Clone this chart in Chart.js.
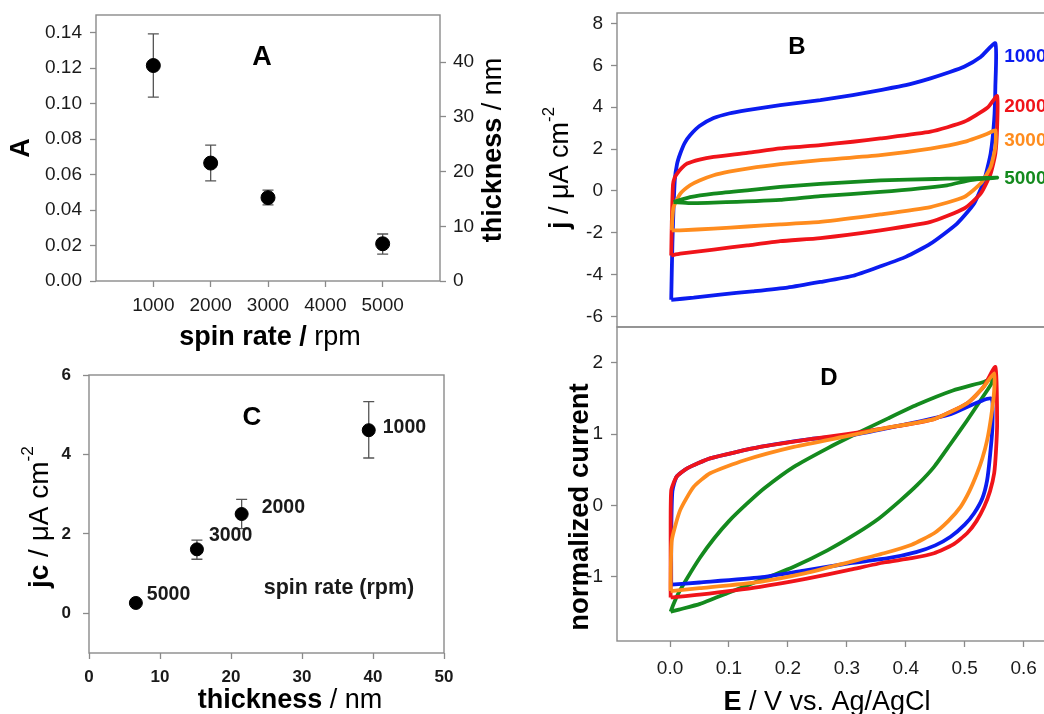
<!DOCTYPE html>
<html>
<head>
<meta charset="utf-8">
<script src="https://cdn.jsdelivr.net/npm/chart.js@4.4.1/dist/chart.umd.min.js"></script>
<style>
html, body { margin: 0; padding: 0; width: 1044px; height: 714px; overflow: hidden; background: #fff; }
canvas { position: absolute; }
</style>
</head>
<body>
<canvas id="chartA" style="left:0;top:0" width="520" height="356"></canvas>
<canvas id="chartC" style="left:0;top:356px" width="520" height="358"></canvas>
<canvas id="chartB" style="left:520px;top:0" width="539" height="330"></canvas>
<canvas id="chartD" style="left:520px;top:320px" width="539" height="394"></canvas>
<script>
// ---- panel A: absorbance vs spin rate
const spinRates = [1000, 2000, 3000, 5000];
const absA = [0.1215, 0.0665, 0.047, 0.021];
const absLow = [0.1037, 0.0565, 0.0429, 0.0151];
const absHigh = [0.1393, 0.0766, 0.0512, 0.0265];
const spinTicks = [1000, 2000, 3000, 4000, 5000];
const absTicks = [0, 0.02, 0.04, 0.06, 0.08, 0.10, 0.12, 0.14];
const nmTicks = [0, 10, 20, 30, 40];

// ---- panel C: jc vs thickness
const thickness = [39.4, 21.5, 15.2, 6.6];
const jc = [4.61, 2.50, 1.61, 0.26];
const jcLow = [3.91, 2.13, 1.36, 0.26];
const jcHigh = [5.33, 2.87, 1.84, 0.26];
const rateLabels = ["1000", "2000", "3000", "5000"];
const thickTicks = [0, 10, 20, 30, 40, 50];
const jcTicks = [0, 2, 4, 6];

// ---- panel B: CVs, [E, j]
const cvB1000 = [[0.002,-5.2],[0.004,-2.5],[0.008,0.5],[0.012,1.3],[0.0175,1.8],[0.025,2.3],[0.034,2.66],[0.05,3.1],[0.074,3.48],[0.1,3.7],[0.131,3.86],[0.187,4.1],[0.255,4.34],[0.31,4.58],[0.357,4.82],[0.4,5.05],[0.442,5.38],[0.475,5.68],[0.499,5.93],[0.527,6.4],[0.552,7.05],[0.552,4.98],[0.55,3.38],[0.544,1.79],[0.533,0.51],[0.516,-0.6],[0.487,-1.56],[0.442,-2.52],[0.4,-3.15],[0.357,-3.6],[0.311,-4.05],[0.255,-4.35],[0.199,-4.62],[0.14,-4.8],[0.085,-4.95],[0.04,-5.1],[0.002,-5.2]];
const cvB2000 = [[0.002,-3.08],[0.003,-1.5],[0.005,0.3],[0.008,0.65],[0.012,0.83],[0.02,1.1],[0.029,1.31],[0.05,1.5],[0.074,1.63],[0.131,1.82],[0.187,2.03],[0.255,2.19],[0.31,2.35],[0.357,2.51],[0.442,2.83],[0.499,3.3],[0.539,3.98],[0.555,4.53],[0.555,3.06],[0.552,1.79],[0.544,0.83],[0.527,-0.13],[0.499,-0.84],[0.442,-1.48],[0.357,-1.88],[0.255,-2.25],[0.187,-2.4],[0.131,-2.6],[0.074,-2.8],[0.017,-3.0],[0.002,-3.08]];
const cvB3000 = [[0.003,-1.88],[0.004,-1.3],[0.006,-0.77],[0.0175,-0.13],[0.034,0.27],[0.05,0.5],[0.074,0.75],[0.1,0.92],[0.131,1.07],[0.187,1.28],[0.255,1.47],[0.357,1.71],[0.442,2.02],[0.499,2.34],[0.539,2.74],[0.552,2.9],[0.552,2.1],[0.544,1.15],[0.527,0.35],[0.499,-0.29],[0.442,-0.77],[0.357,-1.12],[0.255,-1.48],[0.187,-1.6],[0.131,-1.7],[0.074,-1.8],[0.017,-1.88],[0.003,-1.88]];
const cvB5000 = [[0.006,-0.53],[0.034,-0.3],[0.074,-0.13],[0.131,0.03],[0.187,0.19],[0.255,0.34],[0.357,0.5],[0.45,0.57],[0.555,0.64],[0.51,0.52],[0.47,0.27],[0.357,-0.05],[0.255,-0.25],[0.187,-0.43],[0.074,-0.56],[0.034,-0.58],[0.006,-0.53]];

// ---- panel D: normalized CVs, [E, normalized current]
const cvD1000 = [[0.002,-1.11],[0.002,-0.4],[0.004,0.2],[0.011,0.4],[0.029,0.52],[0.068,0.66],[0.153,0.82],[0.238,0.93],[0.306,0.98],[0.391,1.12],[0.476,1.28],[0.544,1.5],[0.547,1.1],[0.543,0.7],[0.538,0.35],[0.53,0.1],[0.516,-0.11],[0.5,-0.27],[0.476,-0.44],[0.45,-0.56],[0.419,-0.65],[0.37,-0.74],[0.306,-0.81],[0.23,-0.91],[0.153,-1.01],[0.05,-1.08],[0.002,-1.11]];
const cvD2000 = [[0.001,-1.29],[0.001,-0.5],[0.002,0.21],[0.011,0.4],[0.029,0.52],[0.068,0.66],[0.153,0.82],[0.238,0.93],[0.3,1.0],[0.363,1.08],[0.448,1.21],[0.504,1.43],[0.532,1.66],[0.552,1.94],[0.555,1.15],[0.553,0.75],[0.55,0.45],[0.543,0.2],[0.533,-0.02],[0.52,-0.22],[0.504,-0.39],[0.48,-0.55],[0.448,-0.67],[0.41,-0.74],[0.363,-0.8],[0.306,-0.9],[0.23,-1.03],[0.153,-1.14],[0.05,-1.25],[0.001,-1.29]];
const cvD3000 = [[0.001,-1.2],[0.001,-1.09],[0.003,-0.49],[0.017,-0.07],[0.04,0.26],[0.068,0.45],[0.125,0.63],[0.21,0.82],[0.306,0.98],[0.363,1.08],[0.448,1.21],[0.504,1.43],[0.532,1.66],[0.55,1.85],[0.55,1.61],[0.545,1.25],[0.538,0.91],[0.53,0.66],[0.521,0.45],[0.508,0.2],[0.493,-0.02],[0.472,-0.22],[0.448,-0.39],[0.41,-0.55],[0.363,-0.67],[0.306,-0.79],[0.23,-0.95],[0.153,-1.07],[0.05,-1.16],[0.001,-1.2]];
const cvD5000 = [[0.001,-1.49],[0.006,-1.38],[0.015,-1.22],[0.029,-1.02],[0.051,-0.73],[0.075,-0.46],[0.1,-0.22],[0.13,0.02],[0.16,0.24],[0.21,0.54],[0.267,0.8],[0.315,1.0],[0.37,1.22],[0.419,1.41],[0.48,1.61],[0.532,1.73],[0.548,1.78],[0.545,1.7],[0.525,1.45],[0.504,1.19],[0.475,0.85],[0.448,0.54],[0.42,0.29],[0.391,0.07],[0.355,-0.18],[0.315,-0.4],[0.267,-0.63],[0.21,-0.86],[0.153,-1.05],[0.097,-1.23],[0.051,-1.38],[0.015,-1.46],[0.001,-1.49]];
const eTicks = [0, 0.1, 0.2, 0.3, 0.4, 0.5, 0.6];
const jTicks = [-6, -4, -2, 0, 2, 4, 6, 8];
const normTicks = [-1, 0, 1, 2];

const FONT = '"Liberation Sans", Arial, sans-serif';
const AXIS = "#8a8a8a";
const TXT = "#1a1a1a";
const BLUE = "#0b1cf0", RED = "#f0141a", ORANGE = "#ff8c1e", GREEN = "#148a1e";

// box round the plot area
const framePlugin = {
    id: "frame",
    afterDraw(chart) {
        const { ctx, chartArea: a } = chart;
        ctx.save();
        ctx.strokeStyle = AXIS;
        ctx.lineWidth = 1.4;
        ctx.strokeRect(a.left, a.top, a.right - a.left, a.bottom - a.top);
        ctx.restore();
    }
};

function errorBars(lows, highs, yId) {
    return {
        id: "errorBars",
        beforeDatasetsDraw(chart) {
            const ctx = chart.ctx, ys = chart.scales[yId];
            ctx.save();
            ctx.strokeStyle = "#555";
            ctx.lineWidth = 1.3;
            chart.getDatasetMeta(0).data.forEach((pt, i) => {
                const y1 = ys.getPixelForValue(lows[i]), y2 = ys.getPixelForValue(highs[i]);
                ctx.beginPath();
                ctx.moveTo(pt.x, y1); ctx.lineTo(pt.x, y2);
                ctx.moveTo(pt.x - 5.5, y1); ctx.lineTo(pt.x + 5.5, y1);
                ctx.moveTo(pt.x - 5.5, y2); ctx.lineTo(pt.x + 5.5, y2);
                ctx.stroke();
            });
            ctx.restore();
        }
    };
}

// text made of bold / regular / superscript runs
function drawRich(ctx, item) {
    ctx.save();
    ctx.translate(item.x, item.y);
    if (item.rot) ctx.rotate(item.rot);
    ctx.fillStyle = item.color || "#000";
    ctx.textBaseline = "middle";
    ctx.textAlign = "left";
    const fonts = item.parts.map(p => (p.bold ? "bold " : "") + (p.sup ? item.size * 0.62 : item.size) + "px " + FONT);
    let w = 0;
    const widths = item.parts.map((p, i) => { ctx.font = fonts[i]; const m = ctx.measureText(p.t).width; w += m; return m; });
    let x = item.align === "left" ? 0 : -w / 2;
    item.parts.forEach((p, i) => {
        ctx.font = fonts[i];
        ctx.fillText(p.t, x, p.sup ? -item.size * 0.42 : 0);
        x += widths[i];
    });
    ctx.restore();
}

function textPlugin(itemsFn) {
    return {
        id: "richText",
        afterDraw(chart) { itemsFn(chart).forEach(it => drawRich(chart.ctx, it)); }
    };
}

function fixedTicks(values) { return s => { s.ticks = values.map(v => ({ value: v })); }; }
// fixed axis box size, no extra room for overflowing end labels
function fitW(w) { return s => { s.width = w; s.paddingTop = s.paddingBottom = s.paddingLeft = s.paddingRight = 0; }; }
function fitH(h) { return s => { s.height = h; s.paddingTop = s.paddingBottom = s.paddingLeft = s.paddingRight = 0; }; }

function axis(extra, bold, size) {
    return Object.assign({
        type: "linear",
        border: { display: false },
        grid: { drawOnChartArea: false, color: AXIS, tickLength: 6, tickWidth: 1.3 },
        ticks: { color: TXT, font: { family: FONT, size: size || 19, weight: bold ? "bold" : "normal" }, maxRotation: 0, autoSkip: false }
    }, extra);
}

const baseOptions = () => ({
    responsive: false,
    animation: false,
    events: [],
    plugins: { legend: { display: false }, tooltip: { enabled: false } }
});

// ---------- A
const optsA = baseOptions();
optsA.layout = { padding: { top: 15, left: 0, right: 0, bottom: 0 } };
optsA.scales = {
    x: axis({ min: 0, max: 6000, afterBuildTicks: fixedTicks(spinTicks), afterFit: fitH(75) }),
    y: axis({ position: "left", min: 0, max: 0.15, afterBuildTicks: fixedTicks(absTicks), afterFit: fitW(96) }),
    y2: axis({ position: "right", min: 0, max: 48.6, afterBuildTicks: fixedTicks(nmTicks), afterFit: fitW(80) })
};
optsA.scales.x.ticks.padding = 7;
optsA.scales.x.ticks.callback = v => String(v);
optsA.scales.y.ticks.padding = 8;
optsA.scales.y.ticks.callback = v => v.toFixed(2);
optsA.scales.y2.ticks.padding = 7;

new Chart(document.getElementById("chartA"), {
    type: "scatter",
    data: { datasets: [{ data: spinRates.map((r, i) => ({ x: r, y: absA[i] })), backgroundColor: "#000", borderColor: "#000", pointRadius: 7 }] },
    options: optsA,
    plugins: [framePlugin, errorBars(absLow, absHigh, "y"), textPlugin(() => [
        { x: 262, y: 58, size: 27, parts: [{ t: "A", bold: true }] },
        { x: 22, y: 148, rot: -Math.PI / 2, size: 27, parts: [{ t: "A", bold: true }] },
        { x: 494, y: 150, rot: -Math.PI / 2, size: 27, parts: [{ t: "thickness", bold: true }, { t: " / nm" }] },
        { x: 270, y: 338, size: 27, parts: [{ t: "spin rate /", bold: true }, { t: " rpm" }] }
    ])]
});

// ---------- C
const optsC = baseOptions();
optsC.layout = { padding: { top: 19, left: 0, right: 76, bottom: 0 } };
optsC.scales = {
    x: axis({ min: 0, max: 50, afterBuildTicks: fixedTicks(thickTicks), afterFit: fitH(61) }, true, 17),
    y: axis({ min: -1, max: 6, afterBuildTicks: fixedTicks(jcTicks), afterFit: fitW(89) }, true, 17)
};
optsC.scales.x.ticks.padding = 8;
optsC.scales.y.ticks.padding = 12;
const labelOffsetsC = [[14, -3], [20, -6], [12, -14], [11, -8]];

new Chart(document.getElementById("chartC"), {
    type: "scatter",
    data: { datasets: [{ data: thickness.map((t, i) => ({ x: t, y: jc[i] })), backgroundColor: "#000", borderColor: "#000", pointRadius: 6.5 }] },
    options: optsC,
    plugins: [framePlugin, errorBars(jcLow, jcHigh, "y"), textPlugin(chart => {
        const xs = chart.scales.x, ys = chart.scales.y;
        const items = rateLabels.map((lab, i) => ({
            x: xs.getPixelForValue(thickness[i]) + labelOffsetsC[i][0],
            y: ys.getPixelForValue(jc[i]) + labelOffsetsC[i][1],
            align: "left", size: 19.5, color: TXT, parts: [{ t: lab, bold: true }]
        }));
        return items.concat([
            { x: 252, y: 62, size: 26, parts: [{ t: "C", bold: true }] },
            { x: 339, y: 232, size: 21.5, color: TXT, parts: [{ t: "spin rate (rpm)", bold: true }] },
            { x: 40, y: 161, rot: -Math.PI / 2, size: 28, parts: [{ t: "jc", bold: true }, { t: " / μA cm" }, { t: "-2", sup: true }] },
            { x: 290, y: 345, size: 27, parts: [{ t: "thickness", bold: true }, { t: " / nm" }] }
        ]);
    })]
});

// ---------- B
const cvLine = (data, color) => ({ data, borderColor: color, borderWidth: 3.8, pointRadius: 0, showLine: true, fill: false, tension: 0.18 });
const optsB = baseOptions();
optsB.layout = { padding: { top: 13, left: 0, right: 0, bottom: 3 } };
optsB.scales = {
    x: { type: "linear", display: false, min: -0.09, max: 0.66 },
    y: axis({ min: -6.5, max: 8.5, afterBuildTicks: fixedTicks(jTicks), afterFit: fitW(97) })
};
optsB.scales.y.ticks.padding = 8;
const curveLabelsB = [["1000", BLUE, 6.4], ["2000", RED, 4.0], ["3000", ORANGE, 2.42], ["5000", GREEN, 0.6]];

new Chart(document.getElementById("chartB"), {
    type: "scatter",
    data: { datasets: [cvLine(cvB5000, GREEN), cvLine(cvB3000, ORANGE), cvLine(cvB2000, RED), cvLine(cvB1000, BLUE)] },
    options: optsB,
    plugins: [framePlugin, textPlugin(chart => {
        const xs = chart.scales.x, ys = chart.scales.y;
        return curveLabelsB.map(([t, c, v]) => ({ x: xs.getPixelForValue(0.567), y: ys.getPixelForValue(v), align: "left", size: 19, color: c, parts: [{ t, bold: true }] }))
            .concat([
                { x: 277, y: 47, size: 24, parts: [{ t: "B", bold: true }] },
                { x: 41, y: 168, rot: -Math.PI / 2, size: 27, parts: [{ t: "j", bold: true }, { t: " / μA cm" }, { t: "-2", sup: true }] }
            ]);
    })]
});

// ---------- D
const optsD = baseOptions();
optsD.layout = { padding: { top: 7, left: 0, right: 0, bottom: 0 } };
optsD.scales = {
    x: axis({ min: -0.09, max: 0.66, afterBuildTicks: fixedTicks(eTicks), afterFit: fitH(73) }),
    y: axis({ min: -1.9, max: 2.5, afterBuildTicks: fixedTicks(normTicks), afterFit: fitW(97) })
};
optsD.scales.x.ticks.padding = 10;
optsD.scales.x.ticks.callback = v => v.toFixed(1);
optsD.scales.y.ticks.padding = 8;

new Chart(document.getElementById("chartD"), {
    type: "scatter",
    data: { datasets: [cvLine(cvD3000, ORANGE), cvLine(cvD2000, RED), cvLine(cvD1000, BLUE), cvLine(cvD5000, GREEN)] },
    options: optsD,
    plugins: [framePlugin, textPlugin(() => [
        { x: 309, y: 58, size: 24, parts: [{ t: "D", bold: true }] },
        { x: 60, y: 187, rot: -Math.PI / 2, size: 27.5, parts: [{ t: "normalized current", bold: true }] },
        { x: 307, y: 383, size: 27, parts: [{ t: "E", bold: true }, { t: " / V vs. Ag/AgCl" }] }
    ])]
});
</script>
</body>
</html>
